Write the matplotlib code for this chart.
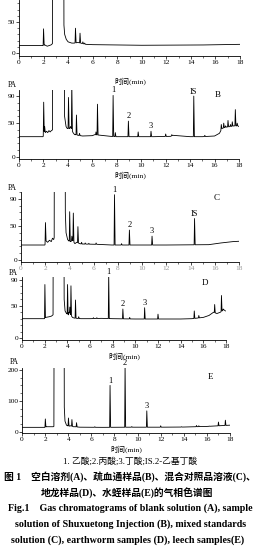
import numpy as np
import matplotlib
matplotlib.use("Agg")
import matplotlib.pyplot as plt
from matplotlib.ticker import MultipleLocator

plt.rcParams['font.family'] = ['Liberation Serif', 'Noto Sans CJK SC']

W, H = 261, 552

# ---------------- data ----------------
# Panel A : blank solution
A_bt = [0, 1.95, 2.1, 2.3, 2.6, 2.72, 2.78, 3.62, 3.66, 3.72, 3.85, 4.0, 4.3, 4.48, 4.8, 5.45, 6.0, 10, 15, 18]
A_bv = [12, 12, 13, 11, 13, 15, 500, 500, 45, 30, 22, 18, 16, 16, 17, 14, 13.5, 12.5, 13, 14]
A_pt = [2.0, 4.6, 4.97, 5.2, 5.35]
A_ph = [39, 40, 32, 18, 16]

# Panel B : Shuxuetong injection
B_bt = [0, 1.97, 2.07, 2.15, 2.25, 2.35, 2.45, 2.55, 2.65, 2.74, 2.78, 3.68, 3.73, 3.85, 3.95, 4.15, 4.22, 4.42, 4.55, 4.64, 4.85, 5.2, 6.0, 6.2, 7.5, 8, 9.5, 11, 12.4, 12.6, 14, 15, 16, 16.4, 16.6, 16.9, 17.3, 17.6, 17.9, 18]
B_bv = [30, 30, 38, 36, 38, 36, 39, 37, 39, 40, 500, 500, 60, 45, 42, 42, 45, 36, 33, 33, 32, 31, 31.5, 33, 30.5, 30, 30, 30, 30.5, 32, 30, 30, 31, 35, 42, 44, 45, 46, 46, 45]
B_pt = [2.02, 2.1, 4.05, 4.32, 4.7, 4.95, 6.3, 6.42, 7.7, 7.88, 8.95, 9.75, 10.8, 12.0, 12.5, 14.3, 15.2, 16.55, 16.75, 16.9, 17.1, 17.3, 17.45, 17.7, 17.85]
B_ph = [81, 45, 88, 110, 62, 35, 37, 78, 91, 36, 53, 37, 38, 34, 33, 90, 32, 48, 50, 46, 54, 48, 52, 70, 50]

# Panel C : mixed standards
C_bt = [0, 1.97, 2.07, 2.2, 2.35, 2.5, 2.6, 2.7, 2.74, 2.78, 3.62, 3.66, 3.72, 3.85, 3.95, 4.1, 4.26, 4.45, 4.6, 4.85, 5.0, 6.3, 7.5, 9, 12, 15.5, 16.5, 17.5, 18]
C_bv = [22, 22, 28, 26, 29, 27, 32, 30, 33, 500, 500, 70, 40, 30, 28, 27, 29, 24, 26, 24, 23.5, 23, 22, 22, 22, 22.5, 25, 27, 27.5]
C_pt = [2.02, 4.02, 4.2, 4.32, 4.7, 5.0, 5.3, 5.6, 6.2, 7.72, 8.3, 8.95, 10.82, 14.33]
C_ph = [55, 71, 35, 69, 49, 26, 25, 24.5, 25, 96, 24, 44, 35, 61]

# Panel D : earthworm samples
D_bt = [0, 1.97, 2.1, 2.4, 2.6, 2.74, 2.78, 3.65, 3.72, 3.8, 3.93, 4.1, 4.15, 4.45, 4.6, 4.85, 5.2, 6, 7, 8, 10, 14, 15, 16, 16.5, 16.9, 17.2, 17.5, 17.8, 17.95]
D_bv = [30, 30, 32, 33, 34, 36, 500, 500, 60, 42, 38, 36, 40, 32, 31, 30.5, 30, 30, 30.5, 30, 29.5, 29.5, 30, 32, 35, 40, 38, 40, 44, 42]
D_pt = [2.02, 4.02, 4.22, 4.32, 4.72, 5.0, 6.3, 6.6, 7.65, 8.9, 9.5, 10.82, 12.0, 15.2, 15.6, 17.0, 17.6, 17.75]
D_ph = [83, 83, 48, 81, 59, 33, 31.5, 31.5, 100, 45, 32, 47, 37, 42, 35, 52, 66, 45]

# Panel E : leech samples
E_bt = [0, 1.97, 2.1, 2.7, 2.76, 2.8, 3.62, 3.66, 3.72, 3.85, 3.95, 4.1, 4.2, 4.45, 4.6, 4.85, 5.0, 7, 9.3, 12, 14, 15, 16, 17, 18]
E_bv = [15, 15, 17, 17, 18, 900, 900, 80, 35, 22, 20, 19, 20, 17, 17, 16, 15.5, 15, 15.5, 15.5, 16, 17, 18, 20, 22]
E_pt = [2.02, 4.02, 4.32, 4.72, 6.3, 7.62, 8.92, 9.5, 10.8, 12.0, 13.8, 15.1, 15.3, 16.2, 17.0, 17.6]
E_ph = [42, 45, 40, 30, 17, 150, 215, 17.5, 68, 20, 17, 21, 20, 19, 32, 38]

x_ticks = [0, 2, 4, 6, 8, 10, 12, 14, 16, 18]
cap_legend = "1. 乙酸;2.丙酸;3.丁酸;IS.2-乙基丁酸"
cap_cn1 = "图 1    空白溶剂(A)、疏血通样品(B)、混合对照品溶液(C)、"
cap_cn2 = "地龙样品(D)、水蛭样品(E)的气相色谱图"
cap_en1 = "Fig.1    Gas chromatograms of blank solution (A), sample"
cap_en2 = "solution of Shuxuetong Injection (B), mixed standards"
cap_en3 = "solution (C), earthworm samples (D), leech samples(E)"
xlab = "时间(min)"

# ---------------- helpers ----------------
fig = plt.figure(figsize=(W / 100, H / 100), dpi=100)


def rect(l, t, r, b):
    return [l / W, 1 - b / H, (r - l) / W, (b - t) / H]


def trace(bt, bv, pt, ph):
    bt = np.asarray(bt, float); bv = np.asarray(bv, float)
    keep = np.ones(len(bt), bool)
    for t in pt:
        keep &= ~((bt > t - 0.035) & (bt < t + 0.05))
    xs = list(bt[keep]); ys = list(bv[keep])
    for t, h in zip(pt, ph):
        b1 = np.interp(t - 0.035, bt, bv)
        b2 = np.interp(t + 0.05, bt, bv)
        xs += [t - 0.035, t, t + 0.05]
        ys += [b1, h, b2]
    o = np.argsort(xs, kind='stable')
    return np.array(xs)[o], np.array(ys)[o]


def panel(r, ylim, yt, ymin, bt, bv, pt, ph, xlabels=True):
    ax = fig.add_axes(rect(*r))
    x, y = trace(bt, bv, pt, ph)
    ax.plot(x, y, color='black', lw=0.6)
    ax.set_xlim(0, 18)
    ax.set_ylim(*ylim)
    for s in ('top', 'right'):
        ax.spines[s].set_visible(False)
    for s in ('left', 'bottom'):
        ax.spines[s].set_linewidth(0.6)
    ax.set_xticks(x_ticks)
    ax.xaxis.set_minor_locator(MultipleLocator(1))
    ax.set_yticks(yt)
    ax.yaxis.set_minor_locator(MultipleLocator(ymin))
    ax.tick_params(which='major', length=2.0, width=0.5, labelsize=5.3, pad=0.8, direction='out')
    ax.tick_params(which='minor', length=1.2, width=0.4, direction='out')
    if not xlabels:
        ax.tick_params(axis='x', labelcolor='#999999')
    ax.patch.set_alpha(0)
    return ax


def ftext(x, y, s, **kw):
    fig.text(x / W, 1 - y / H, s, **kw)


def plabel(ax, x, y, s):
    ax.text(x, y, s, ha='center', va='bottom', fontsize=6, clip_on=False)


# ---------------- panels ----------------
axA = panel((19, 0, 240, 56), (-4.8, 85.5), [0, 50], 10, A_bt, A_bv, A_pt, A_ph)
ftext(130, 81, xlab, ha='center', va='center', fontsize=5.4)

axB = panel((19, 90, 239, 159), (-3, 99), [0, 50, 90], 10, B_bt, B_bv, B_pt, B_ph)
ftext(12, 85, "PA", ha='center', va='center', fontsize=5.5)
plabel(axB, 7.7, 92.5, "1"); plabel(axB, 8.95, 54.5, "2"); plabel(axB, 10.8, 39.5, "3"); plabel(axB, 14.3, 90.5, "IS")
ftext(218, 95, "B", ha='center', va='center', fontsize=6.5)
ftext(130, 175, xlab, ha='center', va='center', fontsize=5.4)

axC = panel((21, 192, 239, 262), (-3, 100), [0, 50, 90], 10, C_bt, C_bv, C_pt, C_ph, xlabels=False)
ftext(12, 188, "PA", ha='center', va='center', fontsize=5.5)
plabel(axC, 7.72, 96.5, "1"); plabel(axC, 8.95, 45, "2"); plabel(axC, 10.82, 36, "3"); plabel(axC, 14.33, 62, "IS")
ftext(217, 198, "C", ha='center', va='center', fontsize=6.5)

axD = panel((22, 277, 226, 340), (-3.1, 94.7), [0, 50, 90], 10, D_bt, D_bv, D_pt, D_ph)
ftext(13, 273, "PA", ha='center', va='center', fontsize=5.5)
plabel(axD, 7.65, 97, "1"); plabel(axD, 8.9, 46, "2"); plabel(axD, 10.82, 48, "3")
ftext(205, 283, "D", ha='center', va='center', fontsize=6.5)
ftext(124, 356, xlab, ha='center', va='center', fontsize=5.4)

axE = panel((22, 368, 230, 433), (-3.2, 206), [0, 100, 200], 25, E_bt, E_bv, E_pt, E_ph)
ftext(14, 362, "PA", ha='center', va='center', fontsize=5.5)
plabel(axE, 7.62, 152, "1"); plabel(axE, 8.92, 209, "2"); plabel(axE, 10.8, 70, "3")
ftext(210, 377, "E", ha='center', va='center', fontsize=6.5)
ftext(126, 449, xlab, ha='center', va='center', fontsize=5.4)

# ---------------- captions ----------------
ftext(130, 462, cap_legend, ha='center', va='center', fontsize=6.3)
ftext(130, 477, cap_cn1, ha='center', va='center', fontsize=7.0, fontweight='bold')
ftext(127, 493, cap_cn2, ha='center', va='center', fontsize=7.0, fontweight='bold')
ftext(130, 508, cap_en1, ha='center', va='center', fontsize=7.2, fontweight='bold')
ftext(131, 524, cap_en2, ha='center', va='center', fontsize=7.2, fontweight='bold')
ftext(128, 540, cap_en3, ha='center', va='center', fontsize=7.2, fontweight='bold')

fig.savefig("out.png", dpi=100, facecolor='white')
